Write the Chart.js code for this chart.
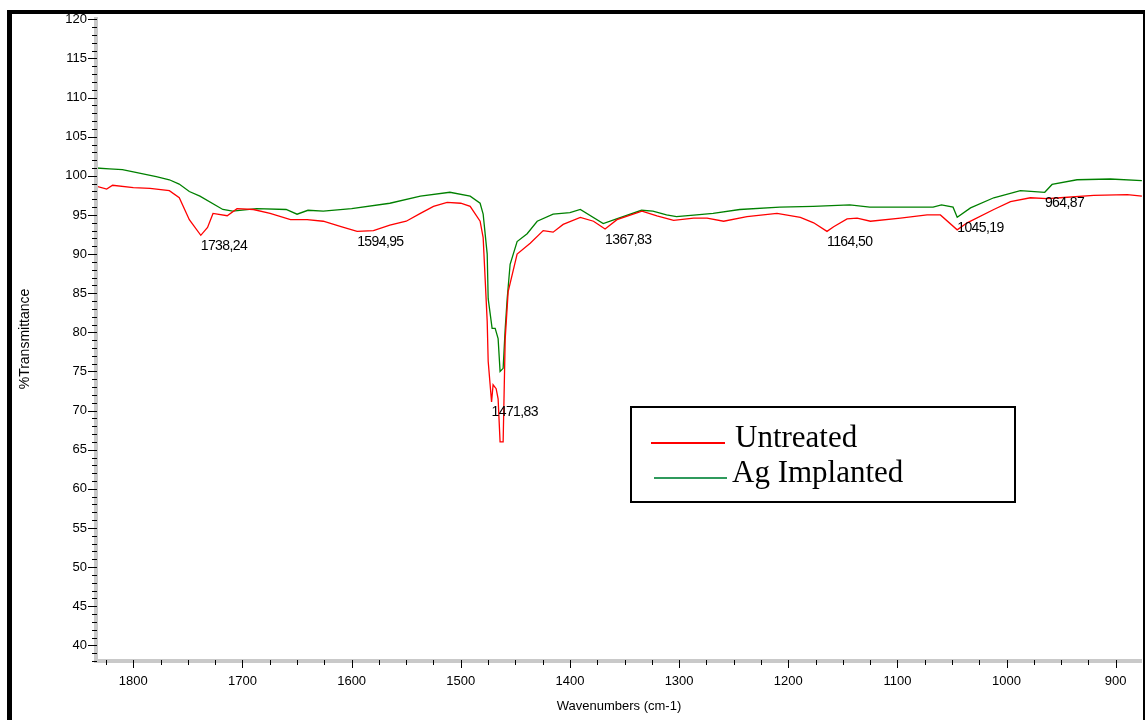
<!DOCTYPE html>
<html>
<head>
<meta charset="utf-8">
<title>FTIR - Untreated / Ag Implanted</title>
<script src="https://cdn.jsdelivr.net/npm/chart.js@4.4.0/dist/chart.umd.min.js"></script>
<style>
  html, body { margin: 0; padding: 0; background: #fff; }
  #wrap { width: 1145px; height: 720px; }
</style>
</head>
<body>
<div id="wrap"><canvas id="irChart" width="1145" height="720"></canvas></div>
<script>
// spectrum values (wavenumber, %T)
const untreatedWn = [1834.2, 1824.4, 1819, 1800, 1784.7, 1767, 1757.9, 1748.7, 1738.2, 1732, 1727, 1714, 1705, 1690, 1674.7, 1656, 1640.8, 1626, 1609.7, 1595, 1580, 1565, 1550, 1537, 1525, 1512.5, 1500, 1491.4, 1482.3, 1479.5, 1475.8, 1474.9, 1471.8, 1470.4, 1467.6, 1465.8, 1464, 1461.2, 1459.3, 1456.6, 1448.4, 1436.4, 1424.5, 1415.4, 1406.2, 1390.5, 1378.4, 1367.8, 1356.9, 1334, 1320.3, 1305, 1286.7, 1274.4, 1259.2, 1237.8, 1210.3, 1188.9, 1176.7, 1164.5, 1158.4, 1146.1, 1136.9, 1124.7, 1097.2, 1072.8, 1060.6, 1045.2, 1036.1, 1011.7, 996.4, 978.1, 962.8, 950.6, 920.1, 889.4, 876];
const untreatedT = [98.7, 98.3, 98.8, 98.5, 98.4, 98.1, 97.2, 94.4, 92.4, 93.4, 95.2, 94.9, 95.8, 95.7, 95.2, 94.4, 94.4, 94.2, 93.5, 92.9, 93.0, 93.7, 94.2, 95.2, 96.1, 96.6, 96.5, 96.1, 94.2, 92.1, 81.4, 76.3, 71.1, 73.3, 72.8, 71.5, 66.0, 66.0, 79.2, 85.2, 90.0, 91.4, 93.0, 92.8, 93.8, 94.7, 94.2, 93.2, 94.4, 95.5, 94.9, 94.3, 94.6, 94.6, 94.2, 94.8, 95.2, 94.7, 94.0, 92.9, 93.5, 94.5, 94.6, 94.2, 94.6, 95.0, 95.0, 93.1, 94.0, 95.7, 96.7, 97.2, 97.1, 97.2, 97.5, 97.6, 97.4];

const agWn = [1834.2, 1822, 1810, 1800, 1779, 1767, 1758, 1748.7, 1739, 1718, 1709, 1687, 1660, 1650, 1640, 1626, 1600, 1565, 1537, 1510, 1491.4, 1482.3, 1479.5, 1475.8, 1474.9, 1471.3, 1468.5, 1465.8, 1464, 1461.2, 1459.3, 1457.5, 1454.8, 1448.4, 1439.2, 1430, 1415.4, 1400, 1390.5, 1369.5, 1357.3, 1334.4, 1324, 1311.5, 1302.4, 1284, 1268.8, 1244.4, 1207.7, 1177.2, 1143.6, 1125.3, 1094.8, 1067.3, 1059.6, 1049, 1045.2, 1033, 1011.7, 987.3, 965, 958.3, 935.4, 904.9, 876];
const agT = [101.0, 100.9, 100.8, 100.5, 99.9, 99.5, 98.95, 98.0, 97.4, 95.7, 95.5, 95.8, 95.7, 95.1, 95.6, 95.5, 95.8, 96.5, 97.4, 97.9, 97.4, 96.5, 95.1, 90.0, 84.3, 80.5, 80.5, 79.2, 75.0, 75.4, 80.5, 84.3, 88.7, 91.6, 92.6, 94.2, 95.1, 95.3, 95.7, 93.9, 94.5, 95.6, 95.5, 95.0, 94.8, 95.0, 95.2, 95.7, 96.0, 96.1, 96.3, 96.0, 96.0, 96.0, 96.3, 96.0, 94.7, 95.9, 97.2, 98.1, 97.9, 98.9, 99.5, 99.6, 99.4];

// tick labels
const xTickValues = [1800, 1700, 1600, 1500, 1400, 1300, 1200, 1100, 1000, 900];
const yTickValues = [40, 45, 50, 55, 60, 65, 70, 75, 80, 85, 90, 95, 100, 105, 110, 115, 120];

// marked peaks and the curve each label belongs to (0 = Untreated, 1 = Ag Implanted)
const peakWn = [1738.24, 1594.95, 1471.83, 1367.83, 1164.50, 1045.19, 964.87];
const peakSeries = [0, 0, 0, 0, 0, 1, 1];

const seriesNames = ["Untreated", "Ag Implanted"];

const sansFont = '"Liberation Sans", Arial, sans-serif';

function toPoints(wn, t) {
    return wn.map((x, i) => ({ x: x, y: t[i] }));
}

// linear lookup on a curve, used to hang the peak labels under it
function valueAt(wn, t, x) {
    for (let i = 0; i < wn.length - 1; i++) {
        if ((wn[i] >= x && wn[i + 1] <= x)) {
            const f = (wn[i] - x) / (wn[i] - wn[i + 1]);
            return t[i] + f * (t[i + 1] - t[i]);
        }
    }
    return t[t.length - 1];
}

// axes bands, tick marks and outer frame
const axisDecor = {
    id: "axisDecor",
    afterDraw(chart) {
        const ctx = chart.ctx;
        const ca = chart.chartArea;
        const xs = chart.scales.x;
        const ys = chart.scales.y;
        ctx.save();

        ctx.fillStyle = "#c9c9c9";
        ctx.fillRect(ca.left - 2, ca.top, 4, ca.bottom - ca.top + 2);
        ctx.fillRect(ca.left - 2, ca.bottom - 2, ca.right - ca.left + 2, 4);

        ctx.strokeStyle = "#000";
        ctx.lineWidth = 1;
        ctx.beginPath();
        for (let v = Math.ceil(ys.min); v <= ys.max; v++) {
            const y = Math.round(ys.getPixelForValue(v)) + 0.5;
            const len = v % 5 === 0 ? 8 : 4;
            ctx.moveTo(ca.left - len, y);
            ctx.lineTo(ca.left + 1, y);
        }
        for (let v = Math.ceil(xs.min / 25) * 25; v <= xs.max; v += 25) {
            const x = Math.round(xs.getPixelForValue(v)) + 0.5;
            const len = v % 100 === 0 ? 7 : 4;
            ctx.moveTo(x, ca.bottom - 1);
            ctx.lineTo(x, ca.bottom + len);
        }
        ctx.stroke();

        // frame
        ctx.fillStyle = "#000";
        ctx.fillRect(7, 10, 5, 710);
        ctx.fillRect(7, 10, 1138, 4);
        ctx.fillRect(1143, 10, 2, 710);

        ctx.restore();
    }
};

// peak wavenumber labels
const peakLabels = {
    id: "peakLabels",
    afterDatasetsDraw(chart) {
        const ctx = chart.ctx;
        const xs = chart.scales.x;
        const ys = chart.scales.y;
        const curves = [[untreatedWn, untreatedT], [agWn, agT]];
        ctx.save();
        ctx.font = "14px " + sansFont;
        ctx.letterSpacing = "-0.6px";
        ctx.fillStyle = "#000";
        ctx.textAlign = "left";
        ctx.textBaseline = "middle";
        peakWn.forEach((wn, i) => {
            const c = curves[peakSeries[i]];
            const x = xs.getPixelForValue(wn);
            const y = ys.getPixelForValue(valueAt(c[0], c[1], wn)) + 11;
            ctx.fillText(wn.toFixed(2).replace(".", ","), x, y);
        });
        ctx.restore();
    }
};

// boxed legend inside the plot
const boxLegend = {
    id: "boxLegend",
    afterDraw(chart) {
        const ctx = chart.ctx;
        const sets = chart.data.datasets;
        ctx.save();
        ctx.strokeStyle = "#000";
        ctx.lineWidth = 2;
        ctx.strokeRect(631, 407, 384, 95);

        const rows = [
            { y: 443, x0: 651, x1: 725, tx: 735, color: "#ff0000" },
            { y: 478, x0: 654, x1: 727, tx: 732, color: "#2f9a5c" }
        ];
        ctx.font = '31px "Liberation Serif", "Times New Roman", serif';
        ctx.textBaseline = "alphabetic";
        rows.forEach((r, i) => {
            ctx.strokeStyle = r.color;
            ctx.lineWidth = 2;
            ctx.beginPath();
            ctx.moveTo(r.x0, r.y);
            ctx.lineTo(r.x1, r.y);
            ctx.stroke();
            ctx.fillStyle = "#000";
            ctx.fillText(sets[i].label, r.tx, r.y + 4);
        });
        ctx.restore();
    }
};

const ctx = document.getElementById("irChart").getContext("2d");

const chart = new Chart(ctx, {
    type: "line",
    data: {
        datasets: [
            {
                label: seriesNames[0],
                data: toPoints(untreatedWn, untreatedT),
                borderColor: "#ff0000",
                borderWidth: 1.3,
                pointRadius: 0,
                tension: 0,
                fill: false
            },
            {
                label: seriesNames[1],
                data: toPoints(agWn, agT),
                borderColor: "#008000",
                borderWidth: 1.3,
                pointRadius: 0,
                tension: 0,
                fill: false
            }
        ]
    },
    options: {
        responsive: false,
        animation: false,
        devicePixelRatio: 1,
        layout: { padding: { left: 0, right: 3, top: 17, bottom: 0 } },
        plugins: {
            legend: { display: false },
            tooltip: { enabled: false }
        },
        scales: {
            x: {
                type: "linear",
                reverse: true,
                min: 875.9,
                max: 1834.2,
                afterFit: (s) => { s.height = 59; },
                afterBuildTicks: (s) => { s.ticks = xTickValues.map((v) => ({ value: v })); },
                grid: { display: false, drawTicks: false },
                border: { display: false },
                ticks: {
                    color: "#000",
                    font: { family: sansFont, size: 13 },
                    padding: 13,
                    maxRotation: 0,
                    autoSkip: false,
                    callback: (v) => String(v)
                },
                title: {
                    display: true,
                    text: "Wavenumbers (cm-1)",
                    color: "#000",
                    font: { family: sansFont, size: 13 },
                    padding: { top: 0, bottom: 6 }
                }
            },
            y: {
                min: 38,
                max: 120.3,
                afterFit: (s) => { s.width = 96; },
                afterBuildTicks: (s) => { s.ticks = yTickValues.map((v) => ({ value: v })); },
                grid: { display: false, drawTicks: false },
                border: { display: false },
                ticks: {
                    color: "#000",
                    font: { family: sansFont, size: 13 },
                    padding: 9,
                    autoSkip: false,
                    callback: (v) => String(v)
                },
                title: {
                    display: true,
                    text: "%Transmittance",
                    color: "#000",
                    font: { family: sansFont, size: 14 },
                    padding: { top: 17, bottom: 0 }
                }
            }
        }
    },
    plugins: [axisDecor, peakLabels, boxLegend]
});
</script>
</body>
</html>
